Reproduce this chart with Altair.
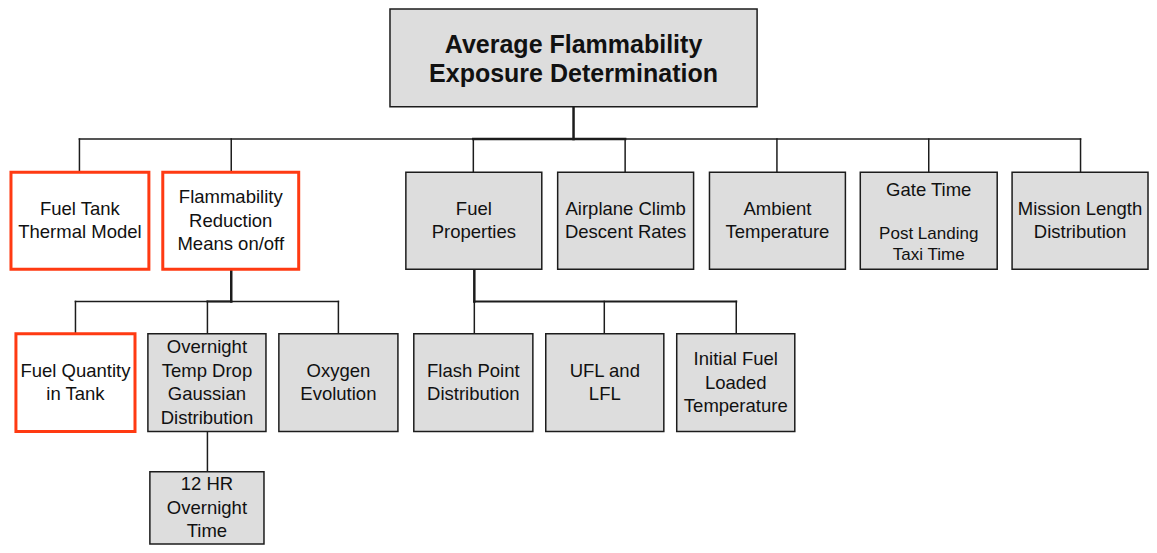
import altair as alt
import pandas as pd

# ---- boxes (diagram coordinates, pixels of the reference) ----
box_labels = [
    "Average Flammability\nExposure Determination",
    "Fuel Tank\nThermal Model",
    "Flammability\nReduction\nMeans on/off",
    "Fuel\nProperties",
    "Airplane Climb\nDescent Rates",
    "Ambient\nTemperature",
    "",
    "Mission Length\nDistribution",
    "Fuel Quantity\nin Tank",
    "Overnight\nTemp Drop\nGaussian\nDistribution",
    "Oxygen\nEvolution",
    "Flash Point\nDistribution",
    "UFL and\nLFL",
    "Initial Fuel\nLoaded\nTemperature",
    "12 HR\nOvernight\nTime",
]
box_x0 = [390, 8, 161, 406, 559, 712, 864, 1017, 13, 146, 278, 414, 547, 679, 148]
box_x1 = [760, 147, 298, 543, 696, 849, 1002, 1154, 133, 265, 398, 534, 666, 798, 263]
box_y0 = [5, 172, 172, 172, 172, 172, 172, 172, 337, 337, 337, 337, 337, 337, 478]
box_y1 = [105, 271, 271, 271, 271, 271, 271, 271, 437, 437, 437, 437, 437, 437, 552]
box_kind = ["title", "highlight", "highlight", "plain", "plain", "plain", "plain", "plain",
            "highlight", "plain", "plain", "plain", "plain", "plain", "plain"]

# Gate Time box has two text groups of different size
gate_labels = ["Gate Time", "Post Landing\nTaxi Time"]
gate_y = [190, 246]
gate_kind = ["main", "sub"]

# ---- connector segments ----
seg_x0 = [575, 77, 474, 77, 230, 474, 627, 780, 933, 1086,
          230, 73, 206, 73, 206, 338,
          475, 475, 475, 606, 739,
          206]
seg_x1 = [575, 1086, 627, 77, 230, 474, 627, 780, 933, 1086,
          230, 338, 230, 73, 206, 338,
          475, 739, 475, 606, 739,
          206]
seg_y0 = [105, 138, 138, 138, 138, 138, 138, 138, 138, 138,
          271, 304, 304, 304, 304, 304,
          271, 304, 304, 304, 304,
          437]
seg_y1 = [138, 138, 138, 172, 172, 172, 172, 172, 172, 172,
          304, 304, 304, 337, 337, 337,
          304, 304, 337, 337, 337,
          478]
seg_weight = ["trunk", "branch", "trunk", "branch", "branch", "branch", "branch", "branch", "branch", "branch",
              "trunk", "branch", "mid", "branch", "branch", "branch",
              "trunk", "mid", "branch", "branch", "branch",
              "branch"]

W, H = 1141, 537
YD = [4, 553]
xs = alt.Scale(domain=[5, 1155], nice=False, zero=False)
ys = alt.Scale(domain=YD, nice=False, zero=False, reverse=True)
KY = H / (YD[1] - YD[0])  # pixels per diagram unit (vertical)

boxes = pd.DataFrame({"label": box_labels, "x0": box_x0, "x1": box_x1,
                      "y0": box_y0, "y1": box_y1, "kind": box_kind})
boxes["cx"] = (boxes.x0 + boxes.x1) / 2
boxes["cy"] = (boxes.y0 + boxes.y1) / 2
boxes["nl"] = boxes.label.str.count("\n")

segs = pd.DataFrame({"x0": seg_x0, "x1": seg_x1, "y0": seg_y0, "y1": seg_y1, "w": seg_weight})

gate_idx = box_labels.index("")
gate = pd.DataFrame({"label": gate_labels, "cy": gate_y, "kind": gate_kind})
gate["cx"] = boxes.loc[gate_idx, "cx"]
gate["nl"] = gate.label.str.count("\n")

ink = "#1c1c1c"
red = "#ff3a12"

X = lambda f: alt.X(f, scale=xs, axis=None)
Y = lambda f: alt.Y(f, scale=ys, axis=None)

def rule_layer(w, sw):
    return alt.Chart(segs).transform_filter(f"datum.w == '{w}'").mark_rule(
        color=ink, strokeWidth=sw, strokeCap="square"
    ).encode(x=X("x0:Q"), x2="x1", y=Y("y0:Q"), y2="y1")

def rect_layer(cond, fill, stroke, sw):
    return alt.Chart(boxes).transform_filter(cond).mark_rect(
        fill=fill, stroke=stroke, strokeWidth=sw
    ).encode(x=X("x0:Q"), x2="x1", y=Y("y0:Q"), y2="y1")

def text_layer(df, cond, size, lh, weight="normal", shift=0):
    # first line's position so that the block of lines is centred on cy
    return alt.Chart(df).transform_filter(cond).transform_calculate(
        ty=f"datum.cy + {shift} - datum.nl * {lh} / 2 / {KY}"
    ).mark_text(
        font="Liberation Sans", fontSize=size, fontWeight=weight, lineHeight=lh,
        color="#111111", lineBreak="\n", align="center", baseline="middle"
    ).encode(x=X("cx:Q"), y=Y("ty:Q"), text="label:N")

layers = [
    rule_layer("branch", 1.5),
    rule_layer("mid", 2),
    rule_layer("trunk", 2.5),
    rect_layer("datum.kind != 'highlight'", "#dddddd", ink, 1.5),
    rect_layer("datum.kind == 'highlight'", "#ffffff", red, 3),
    text_layer(boxes, "datum.kind == 'title'", 25, 29, "bold", 2),
    text_layer(boxes, "datum.kind != 'title' && datum.label != ''", 18.5, 23.5),
    text_layer(gate, "datum.kind == 'main'", 18.5, 23.5),
    text_layer(gate, "datum.kind == 'sub'", 17, 21),
]

chart = alt.layer(*layers).properties(
    width=W, height=H, padding=0, autosize=alt.AutoSizeParams(type="none"), background="white"
).configure_view(stroke=None)

chart.save("out.html", embed_options={"renderer": "svg", "actions": False})
